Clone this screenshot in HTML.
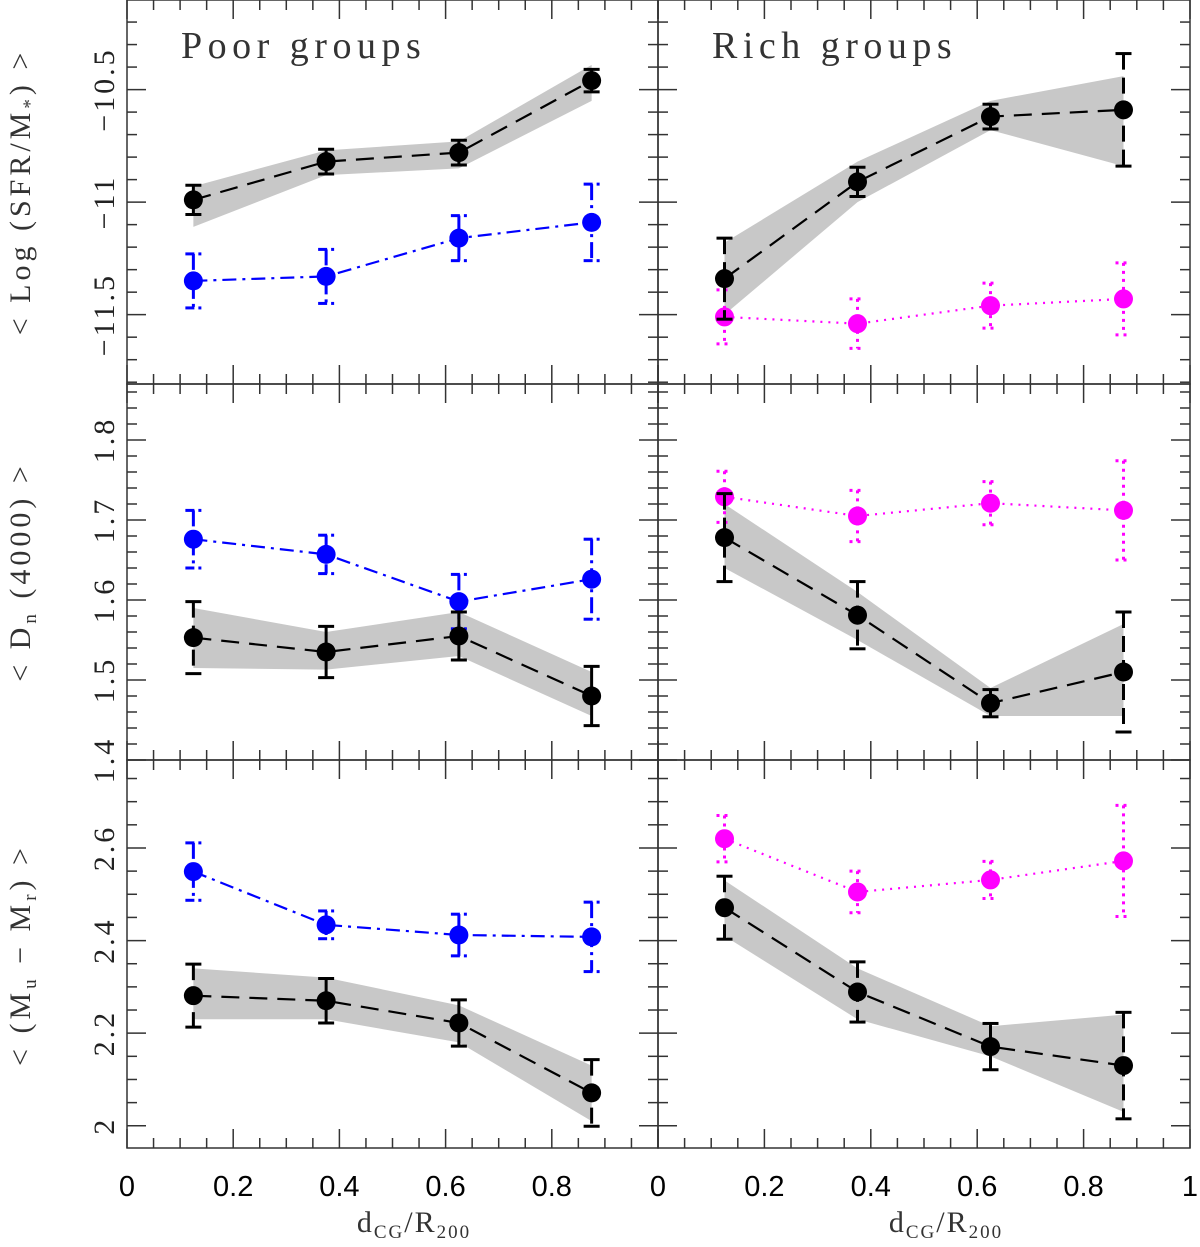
<!DOCTYPE html>
<html><head><meta charset="utf-8"><style>
body{margin:0;background:#fff}
svg text{font-family:"Liberation Serif",serif}
</style></head><body>
<svg id="c" width="1200" height="1242" viewBox="0 0 1200 1242" xmlns="http://www.w3.org/2000/svg"></svg>
<script>
const xVals=[0.125,0.375,0.625,0.875];
const xTicksLeft=[0,0.2,0.4,0.6,0.8];
const xTicksRight=[0,0.2,0.4,0.6,0.8,1];
// row 1: Log SFR/M*
const sfrPoorBlack=[-10.99,-10.82,-10.78,-10.46];
const sfrPoorBlackErr=[0.065,0.055,0.055,0.05];
const sfrPoorBandHi=[-10.93,-10.77,-10.73,-10.39];
const sfrPoorBandLo=[-11.11,-10.88,-10.85,-10.55];
const sfrPoorBlue=[-11.35,-11.33,-11.16,-11.09];
const sfrPoorBlueErr=[0.12,0.12,0.1,0.17];
const sfrRichBlack=[-11.34,-10.91,-10.62,-10.59];
const sfrRichBlackErr=[0.18,0.065,0.055,0.25];
const sfrRichBandHi=[-11.18,-10.82,-10.55,-10.44];
const sfrRichBandLo=[-11.5,-11.0,-10.68,-10.84];
const sfrRichMag=[-11.51,-11.54,-11.46,-11.43];
const sfrRichMagErr=[0.12,0.11,0.1,0.16];
const sfrTicks=[-10.5,-11,-11.5];
// row 2: Dn(4000)
const dnPoorBlack=[1.553,1.535,1.555,1.48];
const dnPoorBlackErr=[0.045,0.032,0.03,0.037];
const dnPoorBandHi=[1.59,1.56,1.585,1.51];
const dnPoorBandLo=[1.515,1.513,1.53,1.455];
const dnPoorBlue=[1.676,1.657,1.598,1.626];
const dnPoorBlueErr=[0.036,0.024,0.034,0.05];
const dnRichBlack=[1.678,1.581,1.471,1.51];
const dnRichBlackErr=[0.055,0.042,0.017,0.075];
const dnRichBandHi=[1.72,1.61,1.49,1.57];
const dnRichBandLo=[1.64,1.55,1.455,1.455];
const dnRichMag=[1.729,1.705,1.721,1.712];
const dnRichMagErr=[0.032,0.032,0.027,0.062];
const dnTicks=[1.4,1.5,1.6,1.7,1.8];
// row 3: Mu-Mr
const colPoorBlack=[2.281,2.27,2.222,2.071];
const colPoorBlackErr=[0.068,0.048,0.05,0.072];
const colPoorBandHi=[2.34,2.32,2.26,2.13];
const colPoorBandLo=[2.23,2.23,2.18,2.01];
const colPoorBlue=[2.549,2.434,2.412,2.408];
const colPoorBlueErr=[0.062,0.03,0.045,0.075];
const colRichBlack=[2.471,2.289,2.171,2.13];
const colRichBlackErr=[0.068,0.065,0.05,0.115];
const colRichBandHi=[2.53,2.34,2.215,2.24];
const colRichBandLo=[2.41,2.23,2.15,2.03];
const colRichMag=[2.62,2.505,2.531,2.572];
const colRichMagErr=[0.05,0.045,0.04,0.12];
const colTicks=[2,2.2,2.4,2.6];

const NS="http://www.w3.org/2000/svg";
const svg=document.getElementById('c');
function mk(tag,attrs,parent){const e=document.createElementNS(NS,tag);for(const k in attrs)e.setAttribute(k,attrs[k]);(parent||svg).appendChild(e);return e;}

const cols=[{x0:127,x1:658},{x0:658,x1:1190}];
const rows=[
 {y0:0,y1:384,min:-11.808,max:-10.102,minor:0.1,ticks:sfrTicks,name:'sfr'},
 {y0:384,y1:760,min:1.4,max:1.87,minor:0.02,ticks:dnTicks,name:'dn'},
 {y0:760,y1:1148,min:1.952,max:2.79,minor:0.05,ticks:colTicks,name:'color'}
];
const panelData=[
 [[sfrPoorBlack,sfrPoorBlackErr,sfrPoorBandHi,sfrPoorBandLo,sfrPoorBlue,sfrPoorBlueErr,'#0000ff','blue'],
  [sfrRichBlack,sfrRichBlackErr,sfrRichBandHi,sfrRichBandLo,sfrRichMag,sfrRichMagErr,'#ff00ff','magenta']],
 [[dnPoorBlack,dnPoorBlackErr,dnPoorBandHi,dnPoorBandLo,dnPoorBlue,dnPoorBlueErr,'#0000ff','blue'],
  [dnRichBlack,dnRichBlackErr,dnRichBandHi,dnRichBandLo,dnRichMag,dnRichMagErr,'#ff00ff','magenta']],
 [[colPoorBlack,colPoorBlackErr,colPoorBandHi,colPoorBandLo,colPoorBlue,colPoorBlueErr,'#0000ff','blue'],
  [colRichBlack,colRichBlackErr,colRichBandHi,colRichBandLo,colRichMag,colRichMagErr,'#ff00ff','magenta']]
];

rows.forEach((r,ri)=>{
 cols.forEach((c,ci)=>{
  const sx=v=>c.x0+v*(c.x1-c.x0);
  const sy=v=>r.y1-(v-r.min)/(r.max-r.min)*(r.y1-r.y0);
  const g=mk('g',{});
  
  
  const [blk,blkE,hi,lo,col,colE,colr,cname]=panelData[ri][ci];
  let pts=xVals.map((x,i)=>sx(x)+','+sy(hi[i])).concat(xVals.map((x,i)=>sx(x)+','+sy(lo[i])).reverse());
  const band=mk('polygon',{points:pts.join(' '),fill:'#c8c8c8'},g);
  
  
  const dash2=ci?'2 6':'14 6 3 6';
  const cl=mk('polyline',{points:xVals.map((x,i)=>sx(x)+','+sy(col[i])).join(' '),fill:'none',stroke:colr,'stroke-width':2.2,'stroke-dasharray':dash2},g);
  
  
  xVals.forEach((x,i)=>{
    const X=sx(x),a=sy(col[i]+colE[i]),b=sy(col[i]-colE[i]);
    const bl=mk('line',{x1:X,x2:X,y1:a,y2:b,stroke:colr,'stroke-width':3,'stroke-dasharray':ci?'3 5':'16 5 3 5'},g);
    
    
    if(ci){
      mk('line',{x1:X-8,x2:X+8,y1:a,y2:a,stroke:colr,'stroke-width':3,'stroke-dasharray':'3 5'},g);
      mk('line',{x1:X-8,x2:X+8,y1:b,y2:b,stroke:colr,'stroke-width':3,'stroke-dasharray':'3 5'},g);
    }else{
      mk('line',{x1:X-8,x2:X+1,y1:a,y2:a,stroke:colr,'stroke-width':3},g);
      mk('line',{x1:X+5,x2:X+8,y1:a,y2:a,stroke:colr,'stroke-width':3},g);
      mk('line',{x1:X-8,x2:X+1,y1:b,y2:b,stroke:colr,'stroke-width':3},g);
      mk('line',{x1:X+5,x2:X+8,y1:b,y2:b,stroke:colr,'stroke-width':3},g);
    }
    const p=mk('circle',{cx:X,cy:sy(col[i]),r:9.5,fill:colr},g);
    
    
  });
  const bl=mk('polyline',{points:xVals.map((x,i)=>sx(x)+','+sy(blk[i])).join(' '),fill:'none',stroke:'#000','stroke-width':2.2,'stroke-dasharray':'18 10'},g);
  
  
  xVals.forEach((x,i)=>{
    const X=sx(x),a=sy(blk[i]+blkE[i]),b=sy(blk[i]-blkE[i]);
    const e=mk('line',{x1:X,x2:X,y1:a,y2:b,stroke:'#000','stroke-width':3,'stroke-dasharray':(b-a)>60?'16 8':'none'},g);
    
    
    mk('line',{x1:X-8,x2:X+8,y1:a,y2:a,stroke:'#000','stroke-width':3},g);
    mk('line',{x1:X-8,x2:X+8,y1:b,y2:b,stroke:'#000','stroke-width':3},g);
    const p=mk('circle',{cx:X,cy:sy(blk[i]),r:9.5,fill:'#000'},g);
    
    
  });
  const fr=mk('rect',{x:c.x0,y:r.y0,width:c.x1-c.x0,height:r.y1-r.y0,fill:'none',stroke:'#333','stroke-width':1.5},g);
  
  
  for(let k=0;k<=20;k++){
    const v=k*0.05,X=sx(v),L=(k%4===0)?19:10;
    mk('line',{x1:X,x2:X,y1:r.y1,y2:r.y1-L,stroke:'#333','stroke-width':1.5},g);
    mk('line',{x1:X,x2:X,y1:r.y0,y2:r.y0+L,stroke:'#333','stroke-width':1.5},g);
  }
  const n0=Math.ceil(r.min/r.minor-1e-6),n1=Math.floor(r.max/r.minor+1e-6);
  for(let n=n0;n<=n1;n++){
    const v=n*r.minor,Y=sy(v);
    const major=r.ticks.some(t=>Math.abs(t-v)<1e-6);
    const L=major?19:10;
    mk('line',{x1:c.x0,x2:c.x0+L,y1:Y,y2:Y,stroke:'#333','stroke-width':1.5},g);
    mk('line',{x1:c.x1,x2:c.x1-L,y1:Y,y2:Y,stroke:'#333','stroke-width':1.5},g);
  }
  if(ci===0){
    r.ticks.forEach(t=>{
      const Y=sy(t);
      const tx=mk('text',{x:0,y:0,transform:`translate(114,${Y}) rotate(-90)`,'text-anchor':'middle','font-size':30,'letter-spacing':3,fill:'#222'},g);
      tx.textContent=(t<0?'\u2212':'')+String(Math.abs(t));
      
      
    });
  }
  if(ri===2){
    (ci?xTicksRight:xTicksLeft).forEach(t=>{
      const tx=mk('text',{x:sx(t),y:1196,'text-anchor':'middle','font-size':29,fill:'#000',style:'font-family:"Liberation Sans",sans-serif'},g);
      tx.textContent=String(t);
      
      
    });
  }
 });
});
svg.insertAdjacentHTML('beforeend',`
<text x="181" y="58" font-size="38" fill="#333" letter-spacing="5.5">Poor groups</text>
<text x="712" y="58" font-size="38" fill="#333" letter-spacing="5.5">Rich groups</text>
<text transform="translate(30,192) rotate(-90)" text-anchor="middle" font-size="30" fill="#333" letter-spacing="4">&lt; Log (SFR/M<tspan font-size="19" dy="6">*</tspan><tspan dy="-6">) &gt;</tspan></text>
<text transform="translate(30,572) rotate(-90)" text-anchor="middle" font-size="30" fill="#333" letter-spacing="4">&lt; D<tspan font-size="19" dy="6">n</tspan><tspan dy="-6"> (4000) &gt;</tspan></text>
<text transform="translate(30,955) rotate(-90)" text-anchor="middle" font-size="30" fill="#333" letter-spacing="4">&lt; (M<tspan font-size="19" dy="6">u</tspan><tspan dy="-6"> − M</tspan><tspan font-size="19" dy="6">r</tspan><tspan dy="-6">) &gt;</tspan></text>
<text x="414" y="1232" text-anchor="middle" font-size="30" fill="#333" letter-spacing="2">d<tspan font-size="19" dy="6">CG</tspan><tspan dy="-6">/R</tspan><tspan font-size="19" dy="6">200</tspan></text>
<text x="946" y="1232" text-anchor="middle" font-size="30" fill="#333" letter-spacing="2">d<tspan font-size="19" dy="6">CG</tspan><tspan dy="-6">/R</tspan><tspan font-size="19" dy="6">200</tspan></text>
`);
</script>
</body></html>
